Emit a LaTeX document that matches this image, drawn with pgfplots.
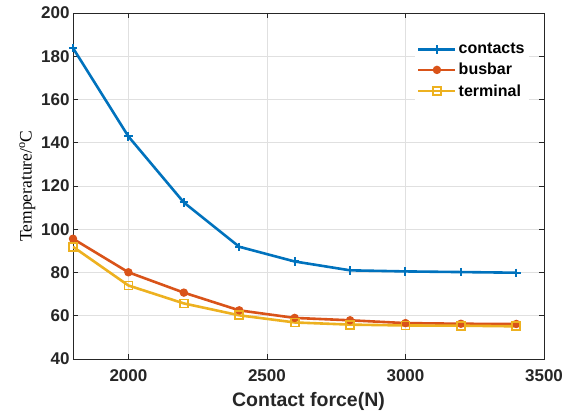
\documentclass[border=0pt]{standalone}
\usepackage{pgfplots}
\pgfplotsset{compat=1.18}
\usepackage{fontspec}
\setmainfont{Liberation Sans}
\newfontfamily\timesfont{Liberation Serif}
\usetikzlibrary{calc}
\definecolor{mblue}{rgb}{0,0.447,0.741}
\definecolor{mred}{rgb}{0.85,0.325,0.098}
\definecolor{myellow}{rgb}{0.929,0.694,0.125}
\definecolor{axgray}{rgb}{0.15,0.15,0.15}
\begin{document}
\begin{tikzpicture}
\begin{axis}[
  scale only axis,
  width=471pt, height=346pt,
  xmin=1800, xmax=3500, ymin=40, ymax=200,
  xtick={2000,2500,3000,3500},
  ytick={40,60,...,200},
  grid=major,
  major grid style={draw=black!12, line width=0.6pt},
  axis line style={draw=axgray, line width=0.8pt},
  tick style={draw=axgray, line width=0.8pt},
  tick align=inside,
  major tick length=5pt,
  xtick pos=both, ytick pos=both,
  /pgf/number format/assume math mode=true,
  /pgf/number format/set thousands separator={},
  tick label style={font=\bfseries\fontsize{17}{18}\selectfont, text=axgray},
  xticklabel style={yshift=-7pt},
  xlabel={Contact force(N)},
  xlabel style={font=\bfseries\fontsize{19.5}{22}\selectfont, text=axgray, yshift=-4pt},
  ylabel={\timesfont Temperature/\textsuperscript{o}C},
  ylabel style={font=\fontsize{17.5}{20}\selectfont, text=black, yshift=-1pt},
  legend style={at={(0.726,0.93)}, anchor=north west, draw=none, fill=white,
    font=\bfseries\fontsize{16}{18}\selectfont, inner sep=2pt,
    nodes={inner ysep=4pt}},
  legend cell align=left,
  legend image code/.code={
    \draw[mark=none,line width=2.6pt] (0cm,0cm) -- (1.3cm,0cm);
    \draw[only marks] plot coordinates {(0.65cm,0cm)};
  },
]
\addplot[color=mblue, line width=2.6pt, mark=+, mark size=4.2pt, mark options={line width=2pt}]
 coordinates {(1800,183.8) (2000,142.9) (2200,112.4) (2400,91.9) (2600,85.1) (2800,81.0) (3000,80.5) (3200,80.2) (3400,79.9)};
\addlegendentry{contacts}
\addplot[color=mred, line width=2.6pt, mark=*, mark size=3.7pt, mark options={fill=mred, line width=1pt}]
 coordinates {(1800,95.6) (2000,80.1) (2200,70.7) (2400,62.5) (2600,59.0) (2800,57.9) (3000,56.6) (3200,56.3) (3400,56.2)};
\addlegendentry{busbar}
\addplot[color=myellow, line width=2.6pt, mark=square, mark size=4pt, mark options={line width=1.8pt}]
 coordinates {(1800,91.9) (2000,74.0) (2200,65.7) (2400,60.2) (2600,56.9) (2800,55.9) (3000,55.5) (3200,55.4) (3400,55.1)};
\addlegendentry{terminal}
\coordinate (bl) at (rel axis cs:0,0);
\coordinate (tr) at (rel axis cs:1,1);
\end{axis}
\pgfresetboundingbox
\path[use as bounding box] ($(bl)+(-73pt,-58pt)$) rectangle ($(tr)+(31pt,13pt)$);
\end{tikzpicture}
\end{document}
